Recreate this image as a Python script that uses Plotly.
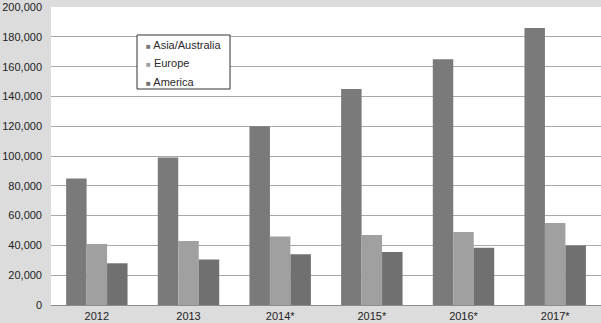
import plotly.graph_objects as go

years = ["2012", "2013", "2014*", "2015*", "2016*", "2017*"]
asia = [85000, 99000, 120000, 145000, 165000, 186000]
europe = [41000, 43000, 46000, 47000, 49000, 55000]
america = [28000, 30500, 34000, 35500, 38500, 40000]
yticks = list(range(0, 200001, 20000))

names = ["Asia/Australia", "Europe", "America"]
colors = ["#7a7a7a", "#a0a0a0", "#707070"]
series = [asia, europe, america]

fig = go.Figure()
for n, c, s in zip(names, colors, series):
    fig.add_trace(go.Bar(x=years, y=s, name=n, marker=dict(color=c, line=dict(width=0)),
                         showlegend=False))

# legend box drawn as shape + annotations
L, T, W, H = 51, 7, 550, 298
def px(x):
    return (x - L) / W
def py(y):
    return (T + H - y) / H

fig.add_shape(type="rect", xref="paper", yref="paper",
              x0=px(137), x1=px(230), y0=py(89), y1=py(35),
              line=dict(color="#333333", width=1), fillcolor="#ffffff", layer="above")
for i, (n, c) in enumerate(zip(names, colors)):
    fig.add_annotation(xref="paper", yref="paper", x=px(144), y=py(45 + i * 18.5),
                       xanchor="left", yanchor="middle", showarrow=False,
                       text=f"<span style='color:{c};font-size:8px'>■</span> {n}",
                       font=dict(size=11, color="#2a2a2a"))

fig.update_layout(
    width=601, height=323,
    margin=dict(l=L, r=0, t=T, b=323 - T - H),
    paper_bgcolor="#dcdcdc",
    plot_bgcolor="#ffffff",
    barmode="group",
    bargap=0.33,
    bargroupgap=0,
    showlegend=False,
    font=dict(family="Liberation Sans, Arial, sans-serif", size=11, color="#222222"),
    xaxis=dict(showgrid=False, ticks="", tickfont=dict(size=11), showline=False,
               automargin=False, ticklabelstandoff=3),
    yaxis=dict(range=[0, 200060], tickvals=yticks, tickformat=",", showgrid=True,
               gridcolor="#a8a8a8", gridwidth=1, zeroline=True, zerolinecolor="#8c8c8c",
               zerolinewidth=1, ticks="", ticklabelstandoff=8, tickfont=dict(size=11),
               automargin=False, ticklabeloverflow="allow"),
)

fig.write_html("out.html", config={"displayModeBar": False},
               post_script="document.body.style.margin='0';document.body.style.overflow='hidden';")
